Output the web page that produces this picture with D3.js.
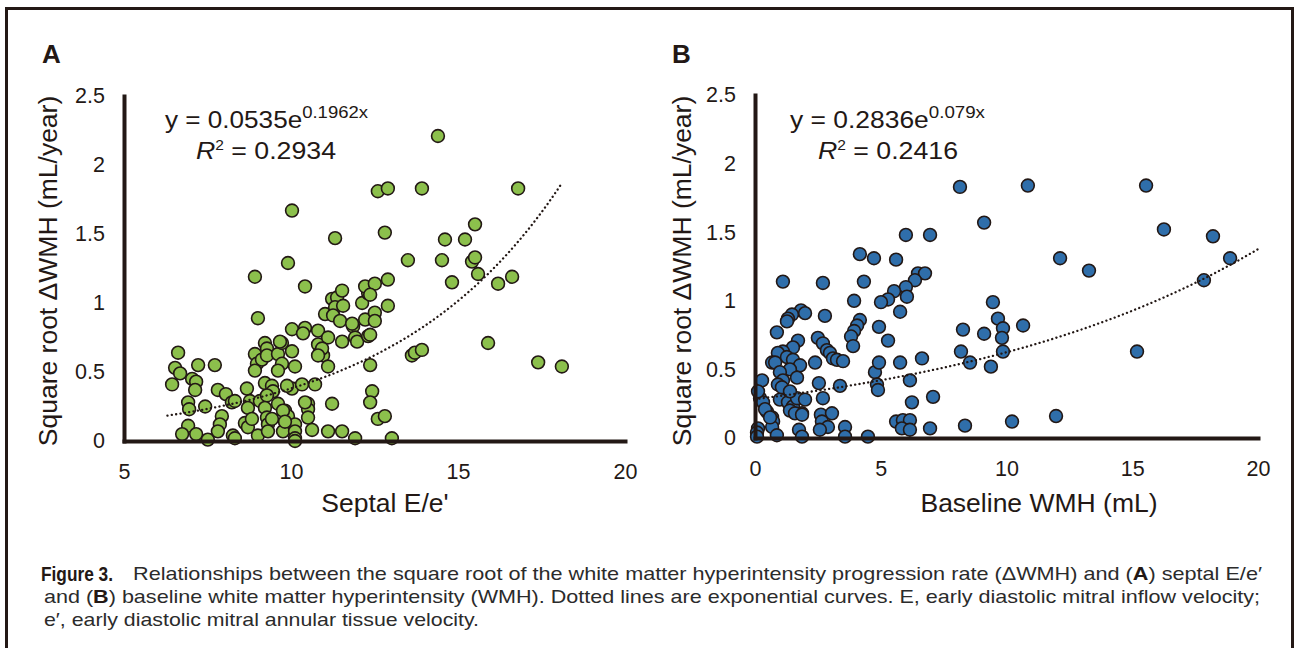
<!DOCTYPE html>
<html><head><meta charset="utf-8">
<script src="https://cdn.jsdelivr.net/npm/d3@7"></script>
<style>
body{margin:0;background:#fff;}
svg{display:block;font-family:"Liberation Sans",Arial,sans-serif;}
</style></head>
<body>
<svg id="c" width="1298" height="648"></svg>
<script>
// ---- Data ----
const panelLabels = ["A", "B"];
const xTicksA = [5, 10, 15, 20];
const xTicksB = [0, 5, 10, 15, 20];
const yTicks = [0, 0.5, 1, 1.5, 2, 2.5];
const yTickLabels = ["0", "0.5", "1", "1.5", "2", "2.5"];
const yTitle = "Square root \u0394WMH (mL/year)";
const xTitleA = "Septal E/e'";
const xTitleB = "Baseline WMH (mL)";
const fitA = [0.0535, 0.1962]; // y = a e^(bx)
const fitB = [0.2836, 0.079];
const fitRangeA = [6.3, 18.1];
const fitRangeB = [0, 20.1];
const eqA = ["y = 0.0535e", "0.1962x", "0.2934"];
const eqB = ["y = 0.2836e", "0.079x", "0.2416"];

const pointsA = [
[6.62,0.64],[6.53,0.53],[6.68,0.49],[6.44,0.41],[7.22,0.55],[7.72,0.55],[7.04,0.45],[7.16,0.43],[7.13,0.37],[6.92,0.28],
[6.95,0.23],[7.43,0.25],[6.92,0.11],[6.74,0.05],[7.16,0.05],[7.51,0.01],[7.81,0.37],[8.05,0.34],[8.23,0.28],[8.32,0.29],
[7.93,0.18],[7.87,0.12],[7.81,0.07],[8.26,0.04],[8.32,0.02],[8.68,0.38],[8.77,0.29],[8.71,0.24],[8.62,0.13],[8.71,0.10],
[8.83,0.16],[9.01,0.04],[8.92,0.63],[8.98,0.56],[9.13,0.59],[8.92,0.51],[9.22,0.71],[9.28,0.67],[9.28,0.62],[9.22,0.42],
[9.43,0.40],[9.46,0.36],[9.07,0.29],[9.28,0.33],[9.22,0.24],[9.28,0.17],[9.31,0.12],[9.43,0.16],[9.31,0.07],[9.61,0.63],
[9.73,0.56],[9.61,0.51],[9.73,0.71],[10.03,0.65],[10.12,0.54],[9.61,0.27],[9.82,0.22],[9.91,0.18],[9.76,0.07],[10.12,0.12],
[10.12,0.07],[10.12,0.02],[10.12,0.0],[10.03,0.38],[10.33,0.41],[10.72,0.41],[10.03,0.81],[10.42,0.82],[10.36,0.78],[10.81,0.80],
[10.81,0.70],[10.87,0.64],[10.96,0.62],[11.11,0.54],[10.51,0.27],[10.51,0.23],[10.51,0.17],[10.63,0.08],[11.11,0.07],[11.53,0.07],
[11.92,0.02],[11.23,0.27],[10.03,1.67],[11.32,1.47],[9.91,1.29],[8.92,1.19],[10.42,1.12],[9.01,0.89],
[11.02,0.92],[11.23,1.03],[11.38,1.04],[11.53,1.09],[11.32,0.97],[11.26,0.91],[11.56,0.98],[11.47,0.87],[11.53,0.72],[11.86,0.83],
[11.92,0.75],[12.13,1.00],[12.31,1.07],[12.22,1.12],[12.22,0.88],[11.83,0.85],[11.98,0.72],[11.11,0.75],[10.93,0.67],[10.81,0.62],
[9.67,0.72],[9.88,0.40],[10.42,0.28],[9.76,0.22],[9.82,0.14],[12.31,0.76],
[12.51,1.14],[12.90,1.17],[12.37,1.06],[12.90,0.98],[12.51,0.93],[12.51,0.87],[12.37,0.77],[12.37,0.55],[12.43,0.36],[12.37,0.28],
[12.60,0.16],[12.81,0.18],[13.02,0.02],
[14.40,2.21],[12.60,1.81],[12.90,1.83],[13.92,1.83],[16.80,1.83],[12.81,1.51],[15.51,1.57],[14.61,1.46],[15.21,1.46],[13.50,1.31],
[14.52,1.31],[15.42,1.30],[15.51,1.33],[15.60,1.21],[14.82,1.15],[16.62,1.19],[16.20,1.14],[15.90,0.71],[13.62,0.62],[13.71,0.64],
[13.92,0.66],[17.40,0.57],[18.11,0.54]
];

const pointsB = [
[9.11,1.57],[6.00,1.48],[6.96,1.48],[4.17,1.34],[4.73,1.31],[5.61,1.30],[1.11,1.14],[2.70,1.13],[4.33,1.14],
[6.48,1.20],[6.76,1.20],[6.36,1.15],[6.00,1.10],[6.04,1.03],[5.53,1.07],[5.29,1.01],[5.01,0.99],[3.94,1.00],[5.77,0.92],
[4.17,0.86],[4.06,0.82],[3.94,0.78],[3.82,0.74],[3.90,0.67],[4.93,0.81],[5.29,0.71],
[1.83,0.93],[1.99,0.91],[1.47,0.90],[1.31,0.87],[1.27,0.85],[2.78,0.89],[0.87,0.77],
[1.71,0.71],[1.51,0.66],[1.11,0.63],[0.91,0.62],[0.68,0.55],[0.80,0.55],
[2.50,0.73],[2.70,0.69],[2.86,0.64],[2.98,0.62],[3.10,0.58],[3.26,0.57],[3.50,0.56],[2.39,0.55],
[1.27,0.59],[1.51,0.57],[1.79,0.53],[1.39,0.50],[0.99,0.48],[1.67,0.44],[1.11,0.42],[0.91,0.39],
[0.28,0.42],[0.20,0.29],[0.32,0.26],[0.48,0.19],[0.68,0.15],[0.72,0.12],[0.68,0.08],[0.12,0.07],[0.08,0.04],[0.87,0.02],
[0.99,0.28],[1.31,0.26],[1.51,0.23],[1.67,0.29],[1.99,0.28],[1.87,0.18],[1.39,0.20],
[2.54,0.40],[2.70,0.29],[3.38,0.38],[2.62,0.17],[3.06,0.18],[2.66,0.12],[2.90,0.08],[2.58,0.06],
[1.75,0.06],[1.87,0.01],[3.58,0.08],[3.58,0.01],[4.49,0.01],
[4.77,0.48],[4.93,0.55],[4.85,0.39],[4.89,0.35],[5.77,0.55],[6.16,0.42],[6.64,0.58],[6.24,0.26],[7.08,0.30],
[5.61,0.12],[5.88,0.13],[6.16,0.13],[5.84,0.07],[6.16,0.06],[6.96,0.07],[8.35,0.09],
[8.27,0.79],[9.11,0.76],[8.19,0.63],[8.55,0.55],[9.38,0.52],[9.46,0.99],[0.12,0.34],
[10.85,1.84],[15.55,1.84],[16.26,1.52],[18.21,1.47],[12.13,1.31],[13.28,1.22],[18.89,1.31],[17.85,1.15],
[9.66,0.87],[9.86,0.80],[9.82,0.73],[9.86,0.63],[10.66,0.82],[15.19,0.63],[10.22,0.12],[11.97,0.16],[8.15,1.83],
[1.07,0.37],[1.39,0.34],[0.40,0.21],[0.60,0.15],[1.59,0.18],[1.87,0.17],[0.08,0.01]
];

const captionBold = "Figure 3.";
const captionLines = [
  ["Relationships between the square root of the white matter hyperintensity progression rate (\u0394WMH) and (", "A", ") septal E/e\u2032"],
  ["and (", "B", ") baseline white matter hyperintensity (WMH). Dotted lines are exponential curves. E, early diastolic mitral inflow velocity;"],
  ["e\u2032, early diastolic mitral annular tissue velocity."]
];

// ---- Drawing ----
const ink = "#231815";
const svg = d3.select("#c");

// frame
svg.append("rect").attr("x", 6.5).attr("y", 8.5).attr("width", 1286).attr("height", 700)
  .attr("fill", "none").attr("stroke", ink).attr("stroke-width", 3);

const panels = [
  {label: panelLabels[0], lx: 42, x0: 124, x1: 625, y0: 441, y1: 96, dom: [5, 20], ticks: xTicksA,
   pts: pointsA, fill: "#8cc04c", fit: fitA, fr: fitRangeA, eq: eqA, eqx: 165, eqw: 203, rx: 196, rw: 140,
   xt: xTitleA, xtx: 385, ytx: 48},
  {label: panelLabels[1], lx: 672, x0: 755, x1: 1258, y0: 438, y1: 95, dom: [0, 20], ticks: xTicksB,
   pts: pointsB, fill: "#2f6eaa", fit: fitB, fr: fitRangeB, eq: eqB, eqx: 790, eqw: 195, rx: 818, rw: 140,
   xt: xTitleB, xtx: 1039, ytx: 682}
];

panels.forEach(p => {
  const g = svg.append("g");
  const x = d3.scaleLinear().domain(p.dom).range([p.x0, p.x1]);
  const y = d3.scaleLinear().domain([0, 2.5]).range([p.y0, p.y1]);

  // points
  g.append("g").selectAll("circle").data(p.pts).join("circle")
    .attr("cx", d => x(d[0])).attr("cy", d => y(d[1])).attr("r", 6.4)
    .attr("fill", p.fill).attr("stroke", ink).attr("stroke-width", 1.6);

  // fit curve
  const xs = d3.range(p.fr[0], p.fr[1] + 0.001, (p.fr[1] - p.fr[0]) / 200);
  g.append("path").datum(xs)
    .attr("d", d3.line().x(d => x(d)).y(d => y(p.fit[0] * Math.exp(p.fit[1] * d))))
    .attr("fill", "none").attr("stroke", ink).attr("stroke-width", 2.3)
    .attr("stroke-linecap", "round").attr("stroke-dasharray", "0.1,4.3");

  // axes
  const ax = g.append("g").attr("transform", `translate(0,${p.y0})`)
    .call(d3.axisBottom(x).tickValues(p.ticks).tickSize(0).tickPadding(23).tickFormat(d3.format("d")));
  const ay = g.append("g").attr("transform", `translate(${p.x0},0)`)
    .call(d3.axisLeft(y).tickValues(yTicks).tickSize(0).tickPadding(19).tickFormat((d, i) => yTickLabels[i]));
  [ax, ay].forEach(a => {
    a.select(".domain").attr("stroke", ink).attr("stroke-width", 4).attr("stroke-linecap", "square");
    a.selectAll("text").attr("font-size", 21.5).attr("fill", ink).attr("font-family", "Liberation Sans, Arial, sans-serif");
  });

  // panel label
  svg.append("text").attr("x", p.lx).attr("y", 63).attr("font-size", 26).attr("font-weight", "bold")
    .attr("fill", ink).text(p.label);

  // equation
  const t1 = svg.append("text").attr("x", p.eqx).attr("y", 128).attr("font-size", 24).attr("fill", ink)
    .attr("textLength", p.eqw).attr("lengthAdjust", "spacingAndGlyphs");
  t1.append("tspan").text(p.eq[0]);
  t1.append("tspan").attr("dy", -10).attr("font-size", 17).text(p.eq[1]);
  const t2 = svg.append("text").attr("x", p.rx).attr("y", 159).attr("font-size", 24).attr("fill", ink)
    .attr("textLength", p.rw).attr("lengthAdjust", "spacingAndGlyphs");
  t2.append("tspan").attr("font-style", "italic").text("R");
  t2.append("tspan").attr("font-size", 14).attr("dy", -9).text("2");
  t2.append("tspan").attr("dy", 9).text(" = " + p.eq[2]);

  // axis titles
  svg.append("text").attr("x", p.xtx).attr("y", 512).attr("text-anchor", "middle")
    .attr("font-size", 26.5).attr("fill", ink).text(p.xt);
  svg.append("text").attr("transform", `translate(${p.ytx},271) rotate(-90)`)
    .attr("text-anchor", "middle").attr("dy", "0.35em").attr("font-size", 26.5).attr("fill", ink).text(yTitle);
});

// caption
const capY = [580, 603, 626];
const capFont = 19;
svg.append("text").attr("x", 41).attr("y", capY[0] + 1).attr("font-size", 21)
  .attr("font-weight", "bold").attr("fill", ink).attr("textLength", 72).attr("lengthAdjust", "spacingAndGlyphs")
  .text(captionBold);
const startX = [133, 44, 44];
const endX = [1262, 1260, 479];
captionLines.forEach((line, i) => {
  const t = svg.append("text").attr("x", startX[i]).attr("y", capY[i]).attr("font-size", capFont).attr("fill", "#2b2b2b")
    .attr("textLength", endX[i] - startX[i]).attr("lengthAdjust", "spacingAndGlyphs");
  line.forEach((s, j) => {
    const ts = t.append("tspan").text(s);
    if (j % 2 === 1) ts.attr("font-weight", "bold").attr("fill", ink);
  });
});
</script>
</body></html>
